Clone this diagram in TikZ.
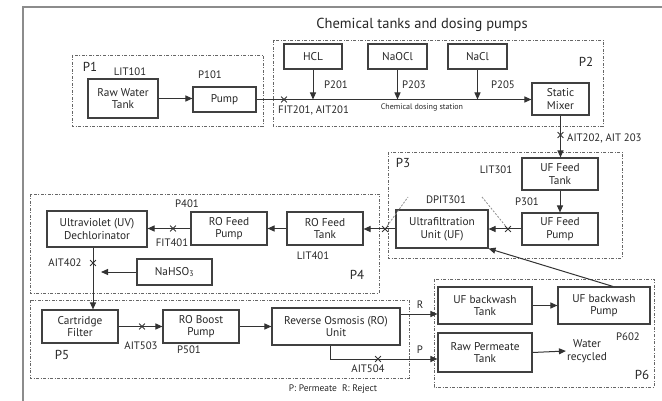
\documentclass[tikz,border=0pt]{standalone}
\usepackage{fontspec}
\setmainfont{PT Sans}
\usetikzlibrary{arrows.meta,shapes.misc}
\begin{document}
\begin{tikzpicture}[x=1pt,y=-1pt,
 box/.style={draw=black!75,line width=1.1pt,align=center,inner sep=1pt,text=black!85,font=\fontsize{11.3}{12.5}\selectfont},
 region/.style={draw=black!60,line width=0.9pt,dash pattern=on 3pt off 1.5pt on 1pt off 1.5pt},
 arr/.style={draw=black!80,line width=1pt,-{Triangle[length=7pt,width=6pt]}},
 lbl/.style={font=\fontsize{10.8}{11}\selectfont,inner sep=0pt,text=black!85},
 plbl/.style={font=\fontsize{13}{13}\selectfont,inner sep=0pt,text=black!85},
 xm/.style={cross out,draw=black!80,line width=0.8pt,minimum size=5pt,inner sep=0pt},
 sensor/.style={draw=black!45,line width=0.8pt,dash pattern=on 2pt off 1.5pt}]
\useasboundingbox (0,0) rectangle (662,401);
% outer frame
\draw[black!45,line width=1.2pt] (23,401) -- (23,7) -- (662,7);
% title
\node[font=\fontsize{14.5}{15}\selectfont,inner sep=0pt,text=black!85] (title) at (422,25) {Chemical tanks and dosing pumps};
% regions
\draw[region] (72,55) rectangle (263,126);
\draw[region] (273,40) rectangle (603,126);
\draw[region] (388,152) rectangle (622,258);
\draw[region] (30,194) rectangle (379,293);
\draw[region] (30,300) rectangle (409,378);
\draw[region] (434,279) rectangle (654,387);
% boxes
\node[box,minimum width=70pt,minimum height=39pt] (rwt) at (123,98.5) {Raw Water\\Tank};
\node[box,minimum width=63pt,minimum height=25pt] (pump) at (224.5,99.5) {Pump};
\node[box,minimum width=58pt,minimum height=25pt] (hcl) at (313,56.5) {HCL};
\node[box,minimum width=59pt,minimum height=25pt] (naocl) at (397.5,56.5) {NaOCl};
\node[box,minimum width=59pt,minimum height=25pt] (nacl) at (477.5,56.5) {NaCl};
\node[box,minimum width=57pt,minimum height=32pt] (mix) at (560.5,99) {Static\\Mixer};
\node[box,minimum width=76pt,minimum height=32pt] (uft) at (560,174) {UF Feed\\Tank};
\node[box,minimum width=76pt,minimum height=32pt] (ufp) at (560,229) {UF Feed\\Pump};
\node[box,minimum width=92pt,minimum height=38pt] (uf) at (442,229) {Ultrafiltration\\Unit (UF)};
\node[box,minimum width=76pt,minimum height=33pt] (rot) at (325,228.5) {RO Feed\\Tank};
\node[box,minimum width=76pt,minimum height=33pt] (rop) at (229,228.5) {RO Feed\\Pump};
\node[box,minimum width=100pt,minimum height=36pt] (uv) at (97,229) {Ultraviolet (UV)\\Dechlorinator};
\node[box,minimum width=75pt,minimum height=26pt] (nahso) at (174.5,272) {NaHSO\textsubscript{3}};
\node[box,minimum width=76pt,minimum height=33pt] (cf) at (80,326.5) {Cartridge\\Filter};
\node[box,minimum width=76pt,minimum height=33pt] (rob) at (201,326.5) {RO Boost\\Pump};
\node[box,minimum width=128pt,minimum height=37pt] (ro) at (336,326.5) {Reverse Osmosis (RO)\\Unit};
\node[box,minimum width=94pt,minimum height=37pt] (ufbt) at (485,305.5) {UF backwash\\Tank};
\node[box,minimum width=92pt,minimum height=37pt] (ufbp) at (604,305.5) {UF backwash\\Pump};
\node[box,minimum width=94pt,minimum height=39pt] (rpt) at (485,352.5) {Raw Permeate\\Tank};
\node[font=\fontsize{11.3}{12.5}\selectfont,align=center,inner sep=1pt,text=black!85] (wr) at (587,351) {Water\\recycled};
% connectors
\draw[arr] (rwt.east) -- (rwt.east -| pump.west);
\draw[arr] (pump.east) -- (pump.east -| mix.west);
\draw[arr] (hcl.south) -- (hcl.south |- pump.east);
\draw[arr] (naocl.south) -- (naocl.south |- pump.east);
\draw[arr] (nacl.south) -- (nacl.south |- pump.east);
\draw[arr] (mix.south) -- (mix.south |- uft.north);
\draw[arr] (uft) -- (ufp);
\draw[arr] (ufp.west) -- (uf.east);
\draw[arr] (uf.west) -- (uf.west -| rot.east);
\draw[arr] (rot.west) -- (rop.east);
\draw[arr] (rop.west) -- (rop.west -| uv.east);
\draw[arr] ([xshift=-4pt]uv.south) -- ([xshift=-4pt]uv.south |- cf.north);
\coordinate (nj) at (101,272);
\draw[arr] (nahso.west) -- (nj);
\draw[arr] (cf.east) -- (rob.west);
\draw[arr] (rob.east) -- (ro.west);
\draw[arr] ([yshift=12.5pt]ro.east) coordinate (rs) -- (rs -| ufbt.west);
\coordinate (pc) at (330,359);
\draw[arr] ([xshift=-6pt]ro.south) -- (pc) -- (pc -| rpt.west);
\draw[arr] (ufbt) -- (ufbp);
\draw[arr] (rpt.east) -- (wr.west);
\draw[arr] ([xshift=9pt]ufbp.north) -- (uf.south east);
% sensors
\node[xm] (x201) at (284,99.5) {};
\node[xm] (x202) at (560.5,135) {};
\node[xm] (xdp1) at (385,229) {};
\node[xm] (xdp2) at (508,229) {};
\node[xm] (x401) at (173,228.5) {};
\node[xm] (x402) at (93,263) {};
\node[xm] (x503) at (142,326.5) {};
\node[xm] (x504) at (378,359) {};
\coordinate (dl) at (408,197);
\coordinate (dr) at (482,197);
\draw[sensor] (xdp1) -- (dl);
\draw[sensor] (dr) -- (xdp2);
% labels
\node[plbl] (lp1) at (90,67) {P1};
\node[plbl] (lp2) at (586,62) {P2};
\node[plbl] (lp3) at (403,163) {P3};
\node[plbl] (lp4) at (357,275) {P4};
\node[plbl] (lp5) at (62,355) {P5};
\node[plbl] (lp6) at (642,375) {P6};
\node[lbl] (l101) at (130,72) {LIT101};
\node[lbl] (p101) at (210,75) {P101};
\node[lbl] (p201) at (336,85) {P201};
\node[lbl] (p203) at (414,85) {P203};
\node[lbl] (p205) at (503,85) {P205};
\node[lbl,anchor=west] (f201) at (278,110) {FIT201, AIT201};
\node[font=\fontsize{8}{8}\selectfont,inner sep=0pt,text=black!85] (cds) at (422,108) {Chemical dosing station};
\node[lbl,anchor=west] (a202) at (567,138) {AIT202, AIT 203};
\node[lbl] (l301) at (496,170) {LIT301};
\node[lbl] (p301) at (527,202) {P301};
\node[lbl] (dp301) at (446,200) {DPIT301};
\node[lbl] (p401) at (187,204) {P401};
\node[lbl] (f401) at (172,243) {FIT401};
\node[lbl] (l401) at (313,256) {LIT401};
\node[lbl] (a402) at (65,263) {AIT402};
\node[lbl] (a503) at (141,346) {AIT503};
\node[lbl] (p501) at (189,350) {P501};
\node[lbl] (a504) at (368,369) {AIT504};
\node[lbl] (lr) at (420,305) {R};
\node[lbl] (lpp) at (420,350) {P};
\node[lbl] (p602) at (628,337) {P602};
\node[font=\fontsize{9.5}{10}\selectfont,inner sep=0pt,text=black!85] (legend) at (333,389) {P: Permeate\ \ R: Reject};
\end{tikzpicture}
\end{document}
